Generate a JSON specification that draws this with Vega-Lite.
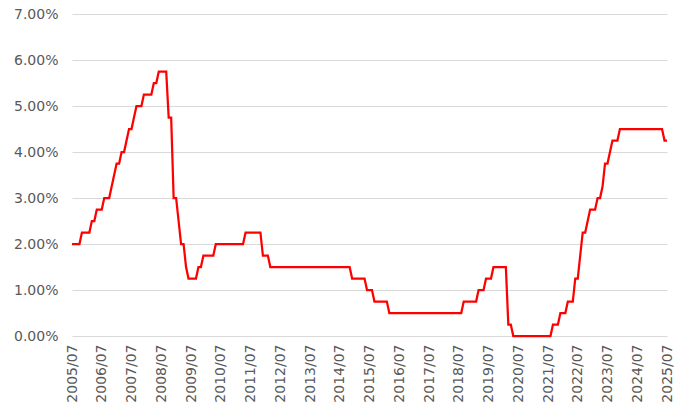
{
  "$schema": "https://vega.github.io/schema/vega-lite/v6.json",
  "width": 595,
  "height": 322,
  "autosize": {"type": "none"},
  "padding": {"left": 72, "top": 14, "right": 27, "bottom": 80},
  "background": "white",
  "config": {
    "view": {"stroke": null},
    "axis": {
      "labelFont": "DejaVu Sans",
      "labelFontSize": 14,
      "labelColor": "#595959",
      "domain": false,
      "ticks": false,
      "gridColor": "#d9d9d9",
      "gridWidth": 1
    }
  },
  "data": {
    "values": [
      {"m": "2005/07", "r": 2}, {"m": "2005/08", "r": 2}, {"m": "2005/09", "r": 2}, {"m": "2005/10", "r": 2}, {"m": "2005/11", "r": 2.25}, {"m": "2005/12", "r": 2.25},
      {"m": "2006/01", "r": 2.25}, {"m": "2006/02", "r": 2.25}, {"m": "2006/03", "r": 2.5}, {"m": "2006/04", "r": 2.5}, {"m": "2006/05", "r": 2.75}, {"m": "2006/06", "r": 2.75}, {"m": "2006/07", "r": 2.75}, {"m": "2006/08", "r": 3}, {"m": "2006/09", "r": 3}, {"m": "2006/10", "r": 3}, {"m": "2006/11", "r": 3.25}, {"m": "2006/12", "r": 3.5},
      {"m": "2007/01", "r": 3.75}, {"m": "2007/02", "r": 3.75}, {"m": "2007/03", "r": 4}, {"m": "2007/04", "r": 4}, {"m": "2007/05", "r": 4.25}, {"m": "2007/06", "r": 4.5}, {"m": "2007/07", "r": 4.5}, {"m": "2007/08", "r": 4.75}, {"m": "2007/09", "r": 5}, {"m": "2007/10", "r": 5}, {"m": "2007/11", "r": 5}, {"m": "2007/12", "r": 5.25},
      {"m": "2008/01", "r": 5.25}, {"m": "2008/02", "r": 5.25}, {"m": "2008/03", "r": 5.25}, {"m": "2008/04", "r": 5.5}, {"m": "2008/05", "r": 5.5}, {"m": "2008/06", "r": 5.75}, {"m": "2008/07", "r": 5.75}, {"m": "2008/08", "r": 5.75}, {"m": "2008/09", "r": 5.75}, {"m": "2008/10", "r": 4.75}, {"m": "2008/11", "r": 4.75}, {"m": "2008/12", "r": 3},
      {"m": "2009/01", "r": 3}, {"m": "2009/02", "r": 2.5}, {"m": "2009/03", "r": 2}, {"m": "2009/04", "r": 2}, {"m": "2009/05", "r": 1.5}, {"m": "2009/06", "r": 1.25}, {"m": "2009/07", "r": 1.25}, {"m": "2009/08", "r": 1.25}, {"m": "2009/09", "r": 1.25}, {"m": "2009/10", "r": 1.5}, {"m": "2009/11", "r": 1.5}, {"m": "2009/12", "r": 1.75},
      {"m": "2010/01", "r": 1.75}, {"m": "2010/02", "r": 1.75}, {"m": "2010/03", "r": 1.75}, {"m": "2010/04", "r": 1.75}, {"m": "2010/05", "r": 2}, {"m": "2010/06", "r": 2}, {"m": "2010/07", "r": 2}, {"m": "2010/08", "r": 2}, {"m": "2010/09", "r": 2}, {"m": "2010/10", "r": 2}, {"m": "2010/11", "r": 2}, {"m": "2010/12", "r": 2},
      {"m": "2011/01", "r": 2}, {"m": "2011/02", "r": 2}, {"m": "2011/03", "r": 2}, {"m": "2011/04", "r": 2}, {"m": "2011/05", "r": 2.25}, {"m": "2011/06", "r": 2.25}, {"m": "2011/07", "r": 2.25}, {"m": "2011/08", "r": 2.25}, {"m": "2011/09", "r": 2.25}, {"m": "2011/10", "r": 2.25}, {"m": "2011/11", "r": 2.25}, {"m": "2011/12", "r": 1.75},
      {"m": "2012/01", "r": 1.75}, {"m": "2012/02", "r": 1.75}, {"m": "2012/03", "r": 1.5}, {"m": "2012/04", "r": 1.5}, {"m": "2012/05", "r": 1.5}, {"m": "2012/06", "r": 1.5}, {"m": "2012/07", "r": 1.5}, {"m": "2012/08", "r": 1.5}, {"m": "2012/09", "r": 1.5}, {"m": "2012/10", "r": 1.5}, {"m": "2012/11", "r": 1.5}, {"m": "2012/12", "r": 1.5},
      {"m": "2013/01", "r": 1.5}, {"m": "2013/02", "r": 1.5}, {"m": "2013/03", "r": 1.5}, {"m": "2013/04", "r": 1.5}, {"m": "2013/05", "r": 1.5}, {"m": "2013/06", "r": 1.5}, {"m": "2013/07", "r": 1.5}, {"m": "2013/08", "r": 1.5}, {"m": "2013/09", "r": 1.5}, {"m": "2013/10", "r": 1.5}, {"m": "2013/11", "r": 1.5}, {"m": "2013/12", "r": 1.5},
      {"m": "2014/01", "r": 1.5}, {"m": "2014/02", "r": 1.5}, {"m": "2014/03", "r": 1.5}, {"m": "2014/04", "r": 1.5}, {"m": "2014/05", "r": 1.5}, {"m": "2014/06", "r": 1.5}, {"m": "2014/07", "r": 1.5}, {"m": "2014/08", "r": 1.5}, {"m": "2014/09", "r": 1.5}, {"m": "2014/10", "r": 1.5}, {"m": "2014/11", "r": 1.5}, {"m": "2014/12", "r": 1.25},
      {"m": "2015/01", "r": 1.25}, {"m": "2015/02", "r": 1.25}, {"m": "2015/03", "r": 1.25}, {"m": "2015/04", "r": 1.25}, {"m": "2015/05", "r": 1.25}, {"m": "2015/06", "r": 1}, {"m": "2015/07", "r": 1}, {"m": "2015/08", "r": 1}, {"m": "2015/09", "r": 0.75}, {"m": "2015/10", "r": 0.75}, {"m": "2015/11", "r": 0.75}, {"m": "2015/12", "r": 0.75},
      {"m": "2016/01", "r": 0.75}, {"m": "2016/02", "r": 0.75}, {"m": "2016/03", "r": 0.5}, {"m": "2016/04", "r": 0.5}, {"m": "2016/05", "r": 0.5}, {"m": "2016/06", "r": 0.5}, {"m": "2016/07", "r": 0.5}, {"m": "2016/08", "r": 0.5}, {"m": "2016/09", "r": 0.5}, {"m": "2016/10", "r": 0.5}, {"m": "2016/11", "r": 0.5}, {"m": "2016/12", "r": 0.5},
      {"m": "2017/01", "r": 0.5}, {"m": "2017/02", "r": 0.5}, {"m": "2017/03", "r": 0.5}, {"m": "2017/04", "r": 0.5}, {"m": "2017/05", "r": 0.5}, {"m": "2017/06", "r": 0.5}, {"m": "2017/07", "r": 0.5}, {"m": "2017/08", "r": 0.5}, {"m": "2017/09", "r": 0.5}, {"m": "2017/10", "r": 0.5}, {"m": "2017/11", "r": 0.5}, {"m": "2017/12", "r": 0.5},
      {"m": "2018/01", "r": 0.5}, {"m": "2018/02", "r": 0.5}, {"m": "2018/03", "r": 0.5}, {"m": "2018/04", "r": 0.5}, {"m": "2018/05", "r": 0.5}, {"m": "2018/06", "r": 0.5}, {"m": "2018/07", "r": 0.5}, {"m": "2018/08", "r": 0.5}, {"m": "2018/09", "r": 0.75}, {"m": "2018/10", "r": 0.75}, {"m": "2018/11", "r": 0.75}, {"m": "2018/12", "r": 0.75},
      {"m": "2019/01", "r": 0.75}, {"m": "2019/02", "r": 0.75}, {"m": "2019/03", "r": 1}, {"m": "2019/04", "r": 1}, {"m": "2019/05", "r": 1}, {"m": "2019/06", "r": 1.25}, {"m": "2019/07", "r": 1.25}, {"m": "2019/08", "r": 1.25}, {"m": "2019/09", "r": 1.5}, {"m": "2019/10", "r": 1.5}, {"m": "2019/11", "r": 1.5}, {"m": "2019/12", "r": 1.5},
      {"m": "2020/01", "r": 1.5}, {"m": "2020/02", "r": 1.5}, {"m": "2020/03", "r": 0.25}, {"m": "2020/04", "r": 0.25}, {"m": "2020/05", "r": 0}, {"m": "2020/06", "r": 0}, {"m": "2020/07", "r": 0}, {"m": "2020/08", "r": 0}, {"m": "2020/09", "r": 0}, {"m": "2020/10", "r": 0}, {"m": "2020/11", "r": 0}, {"m": "2020/12", "r": 0},
      {"m": "2021/01", "r": 0}, {"m": "2021/02", "r": 0}, {"m": "2021/03", "r": 0}, {"m": "2021/04", "r": 0}, {"m": "2021/05", "r": 0}, {"m": "2021/06", "r": 0}, {"m": "2021/07", "r": 0}, {"m": "2021/08", "r": 0}, {"m": "2021/09", "r": 0.25}, {"m": "2021/10", "r": 0.25}, {"m": "2021/11", "r": 0.25}, {"m": "2021/12", "r": 0.5},
      {"m": "2022/01", "r": 0.5}, {"m": "2022/02", "r": 0.5}, {"m": "2022/03", "r": 0.75}, {"m": "2022/04", "r": 0.75}, {"m": "2022/05", "r": 0.75}, {"m": "2022/06", "r": 1.25}, {"m": "2022/07", "r": 1.25}, {"m": "2022/08", "r": 1.75}, {"m": "2022/09", "r": 2.25}, {"m": "2022/10", "r": 2.25}, {"m": "2022/11", "r": 2.5}, {"m": "2022/12", "r": 2.75},
      {"m": "2023/01", "r": 2.75}, {"m": "2023/02", "r": 2.75}, {"m": "2023/03", "r": 3}, {"m": "2023/04", "r": 3}, {"m": "2023/05", "r": 3.25}, {"m": "2023/06", "r": 3.75}, {"m": "2023/07", "r": 3.75}, {"m": "2023/08", "r": 4}, {"m": "2023/09", "r": 4.25}, {"m": "2023/10", "r": 4.25}, {"m": "2023/11", "r": 4.25}, {"m": "2023/12", "r": 4.5},
      {"m": "2024/01", "r": 4.5}, {"m": "2024/02", "r": 4.5}, {"m": "2024/03", "r": 4.5}, {"m": "2024/04", "r": 4.5}, {"m": "2024/05", "r": 4.5}, {"m": "2024/06", "r": 4.5}, {"m": "2024/07", "r": 4.5}, {"m": "2024/08", "r": 4.5}, {"m": "2024/09", "r": 4.5}, {"m": "2024/10", "r": 4.5}, {"m": "2024/11", "r": 4.5}, {"m": "2024/12", "r": 4.5},
      {"m": "2025/01", "r": 4.5}, {"m": "2025/02", "r": 4.5}, {"m": "2025/03", "r": 4.5}, {"m": "2025/04", "r": 4.5}, {"m": "2025/05", "r": 4.5}, {"m": "2025/06", "r": 4.25}, {"m": "2025/07", "r": 4.25}
    ]
  },
  "mark": {"type": "line", "color": "#ff0000", "strokeWidth": 2.25},
  "encoding": {
    "x": {
      "field": "m",
      "type": "ordinal",
      "sort": null,
      "scale": {"type": "point", "padding": 0},
      "axis": {
        "title": null,
        "grid": false,
        "labelAngle": -90,
        "labelPadding": 8,
        "values": ["2005/07", "2006/07", "2007/07", "2008/07", "2009/07", "2010/07", "2011/07", "2012/07", "2013/07", "2014/07", "2015/07", "2016/07", "2017/07", "2018/07", "2019/07", "2020/07", "2021/07", "2022/07", "2023/07", "2024/07", "2025/07"]
      }
    },
    "y": {
      "field": "r",
      "type": "quantitative",
      "scale": {"domain": [0, 7]},
      "axis": {
        "title": null,
        "values": [0, 1, 2, 3, 4, 5, 6, 7],
        "labelExpr": "format(datum.value, '.2f') + '%'",
        "labelPadding": 14
      }
    }
  }
}
